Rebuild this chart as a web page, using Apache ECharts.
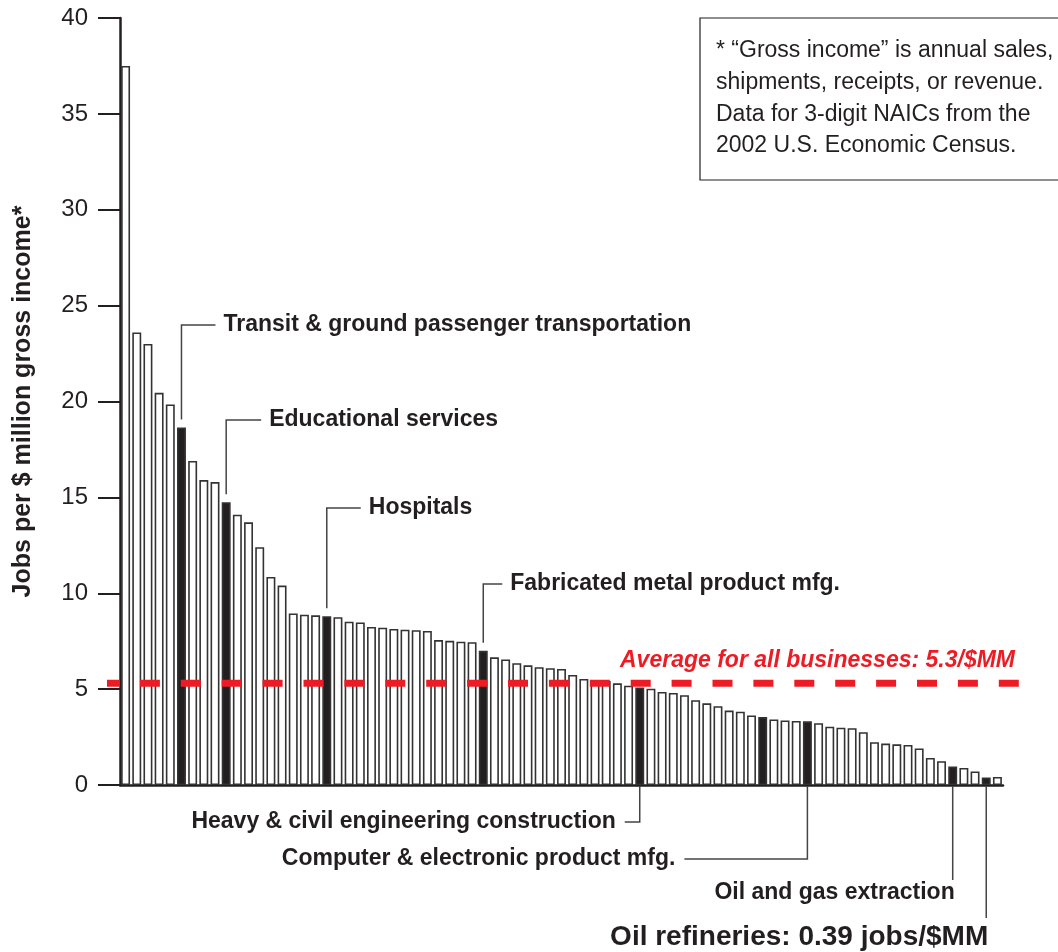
<!DOCTYPE html>
<html>
<head>
<meta charset="utf-8">
<script src="https://cdn.jsdelivr.net/npm/echarts@6/dist/echarts.min.js"></script>
<style>
html,body{margin:0;padding:0;background:#fff;}
#main{width:1058px;height:952px;}
</style>
</head>
<body>
<div id="main"></div>
<script>
// ---- data ----
const values = [
  37.5, 23.6, 23.0, 20.45, 19.85, 18.65, 16.9, 15.9, 15.8, 14.75,
  14.1, 13.7, 12.4, 10.85, 10.4, 8.95, 8.88, 8.85, 8.8, 8.75,
  8.52, 8.48, 8.24, 8.2, 8.14, 8.1, 8.07, 8.03, 7.56, 7.52,
  7.47, 7.45, 7.0, 6.66, 6.55, 6.35, 6.24, 6.14, 6.09, 6.05,
  5.74, 5.53, 5.48, 5.42, 5.3, 5.18, 5.08, 5.02, 4.85, 4.8,
  4.68, 4.42, 4.26, 4.11, 3.88, 3.82, 3.63, 3.54, 3.42, 3.37,
  3.34, 3.32, 3.22, 3.04, 2.99, 2.96, 2.75, 2.23, 2.16, 2.12,
  2.09, 1.91, 1.41, 1.24, 0.96, 0.89, 0.71, 0.39, 0.42
];
const categories = values.map((v, i) => 'Industry ' + (i + 1));
const highlighted = [5, 9, 18, 32, 46, 57, 61, 74, 77];
const avgValue = 5.3;
const avgLabel = 'Average for all businesses: 5.3/$MM';
const yMin = 0, yMax = 40, yInterval = 5;
const yAxisName = 'Jobs per $ million gross income*';
const annotBars = [5, 9, 18, 32, 46, 61, 74, 77];
const annotTexts = [
  'Transit & ground passenger transportation',
  'Educational services',
  'Hospitals',
  'Fabricated metal product mfg.',
  'Heavy & civil engineering construction',
  'Computer & electronic product mfg.',
  'Oil and gas extraction',
  'Oil refineries: 0.39 jobs/$MM'
];
const noteLines = [
  '* \u201cGross income\u201d is annual sales,',
  'shipments, receipts, or revenue.',
  'Data for 3-digit NAICs from the',
  '2002 U.S. Economic Census.'
];

// ---- layout (pixels) for annotation leaders ----
const annotLayout = [
  {kind: 'up', y: 325, arm: 34},
  {kind: 'up', y: 420, arm: 35},
  {kind: 'up', y: 508, arm: 34},
  {kind: 'up', y: 584, arm: 19},
  {kind: 'left', y: 822, arm: 15},
  {kind: 'left', y: 859, arm: 123},
  {kind: 'below', y: 880, textY: 893, size: 23},
  {kind: 'below', y: 918, textY: 937, size: 28}
];

const FONT = '"Liberation Sans", Arial, Helvetica, sans-serif';
const INK = '#231f20';
const RED = '#ed1c24';

const chart = echarts.init(document.getElementById('main'));

const option = {
  animation: false,
  backgroundColor: '#fff',
  grid: [
    {left: 120, right: 55, top: 18, bottom: 167},
    {left: 107, right: 39, top: 18, bottom: 167}
  ],
  xAxis: [
    {
      type: 'category', data: categories, gridIndex: 0,
      axisLine: {show: true, lineStyle: {color: INK, width: 2.5}},
      axisTick: {show: false}, axisLabel: {show: false}, splitLine: {show: false}
    },
    {type: 'value', gridIndex: 1, min: 0, max: 1, show: false}
  ],
  yAxis: [
    {
      type: 'value', gridIndex: 0, min: yMin, max: yMax, interval: yInterval,
      name: yAxisName, nameLocation: 'middle', nameGap: 84, nameRotate: 90,
      nameTextStyle: {fontFamily: FONT, fontWeight: 'bold', fontSize: 25, color: INK},
      axisLine: {show: true, lineStyle: {color: INK, width: 2.5}},
      axisTick: {show: true, inside: false, length: 22, lineStyle: {color: INK, width: 2}},
      axisLabel: {fontFamily: FONT, fontSize: 24, color: INK, margin: 32},
      splitLine: {show: false}
    },
    {type: 'value', gridIndex: 1, min: yMin, max: yMax, show: false}
  ],
  series: [
    {
      type: 'bar', xAxisIndex: 0, yAxisIndex: 0,
      barCategoryGap: '20%',
      data: values.map((v, i) => ({
        value: v,
        itemStyle: {
          color: highlighted.indexOf(i) >= 0 ? INK : '#ffffff',
          borderColor: '#333333', borderWidth: 1.6
        }
      })),
      z: 2
    },
    {
      type: 'line', xAxisIndex: 1, yAxisIndex: 1,
      data: [[0, avgValue], [1, avgValue]],
      symbol: 'none',
      lineStyle: {color: RED, width: 7, type: [20, 20.9], dashOffset: 8, cap: 'butt'},
      z: 5
    }
  ]
};
chart.setOption(option);

// ---- annotations built from the library's scales ----
const g = [];
const leaderStyle = {stroke: '#444', lineWidth: 1.5, fill: 'none'};
annotBars.forEach((idx, k) => {
  const L = annotLayout[k];
  const top = chart.convertToPixel({xAxisIndex: 0, yAxisIndex: 0}, [idx, values[idx]]);
  const base = chart.convertToPixel({xAxisIndex: 0, yAxisIndex: 0}, [idx, 0]);
  const cx = top[0];
  let pts, tx, ty, align, size = L.size || 23;
  if (L.kind === 'up') {
    pts = [[cx, top[1] - 8], [cx, L.y], [cx + L.arm, L.y]];
    tx = cx + L.arm + 8; ty = L.y; align = 'left';
  } else if (L.kind === 'left') {
    pts = [[cx, base[1] + 1], [cx, L.y], [cx - L.arm, L.y]];
    tx = cx - L.arm - 9; ty = L.y; align = 'right';
  } else {
    pts = [[cx, base[1] + 1], [cx, L.y]];
    tx = cx + 2; ty = L.textY; align = 'right';
  }
  g.push({type: 'polyline', shape: {points: pts}, style: leaderStyle, z: 10, silent: true});
  g.push({
    type: 'text', x: tx, y: ty, z: 10, silent: true,
    style: {text: annotTexts[k], font: 'bold ' + size + 'px ' + FONT, fill: INK,
            align: align, verticalAlign: 'middle'}
  });
});

// average label
const avgEnd = chart.convertToPixel({xAxisIndex: 1, yAxisIndex: 1}, [1, avgValue]);
g.push({
  type: 'text', x: avgEnd[0] - 4, y: avgEnd[1] - 23, z: 10, silent: true,
  style: {text: avgLabel, font: 'italic bold 23px ' + FONT, fill: RED,
          align: 'right', verticalAlign: 'middle'}
});

// note box
g.push({type: 'rect', shape: {x: 700, y: 18, width: 380, height: 162},
        style: {fill: '#fff', stroke: INK, lineWidth: 1.2}, z: 1, silent: true});
noteLines.forEach((t, i) => {
  g.push({type: 'text', x: 716, y: 51 + i * 31.7, z: 11, silent: true,
          style: {text: t, font: '23px ' + FONT, fill: INK, align: 'left', verticalAlign: 'middle'}});
});

chart.setOption({graphic: g});
</script>
</body>
</html>
